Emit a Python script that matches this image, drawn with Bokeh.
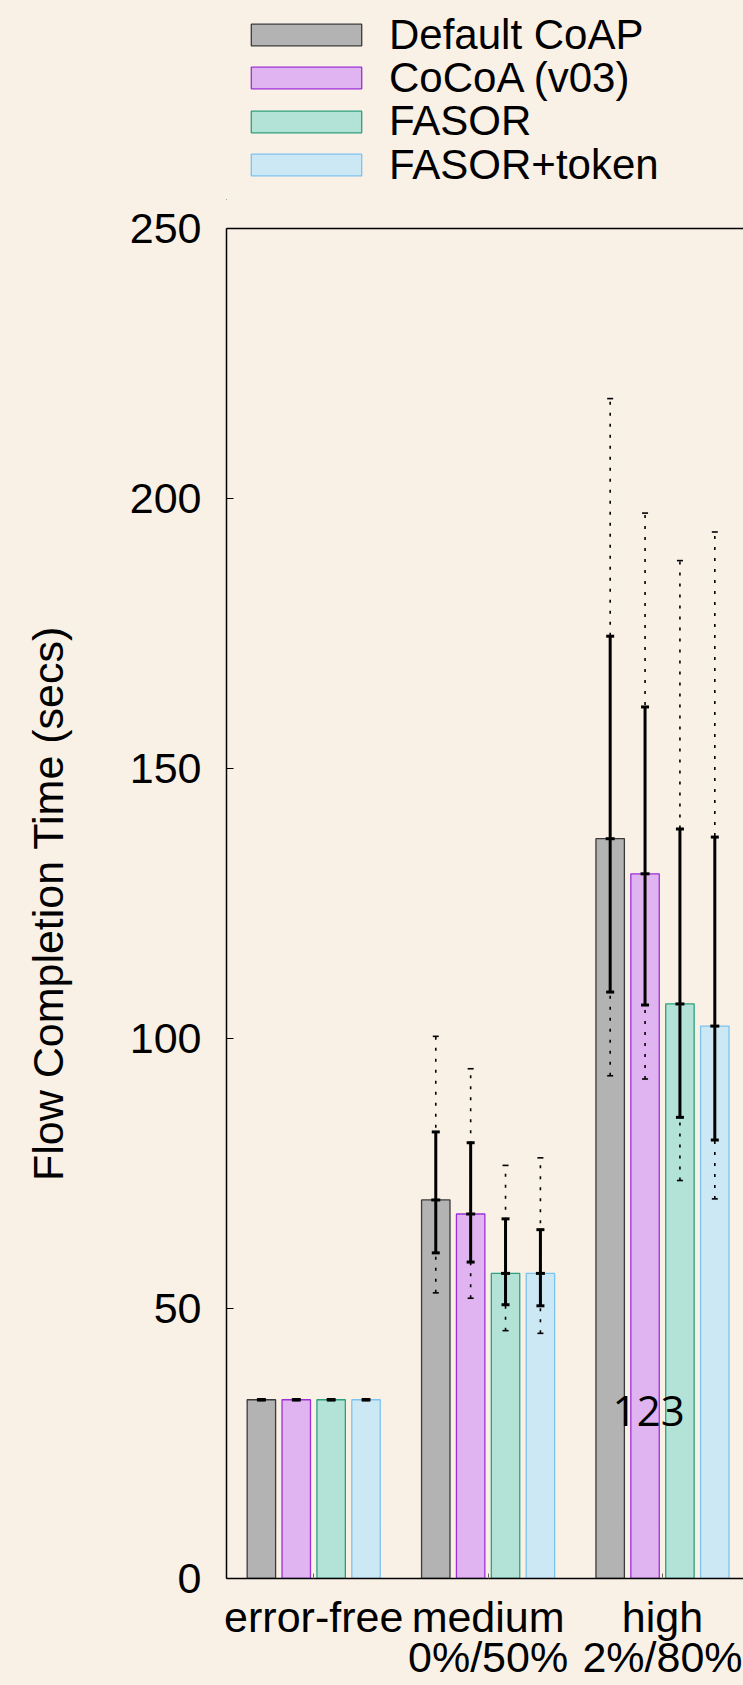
from bokeh.plotting import figure
from bokeh.layouts import column
from bokeh.models import (ColumnDataSource, Whisker, TeeHead, Legend, LegendItem,
                          FixedTicker, LinearAxis, Range1d, Label)
from bokeh.transform import dodge
from bokeh.embed import file_html
from bokeh.resources import INLINE

# ---------------- data ----------------
groups = ["error-free", "medium\n0%/50%", "high\n2%/80%"]
series = ["Default CoAP", "CoCoA (v03)", "FASOR", "FASOR+token"]

mean_default = [33.1, 70.1, 137.0]
mean_cocoa = [33.1, 67.5, 130.5]
mean_fasor = [33.1, 56.5, 106.4]
mean_token = [33.1, 56.5, 102.3]

lo_default = [33.1, 60.3, 108.6]
hi_default = [33.1, 82.7, 174.5]
lo_cocoa = [33.1, 58.6, 106.2]
hi_cocoa = [33.1, 80.7, 161.4]
lo_fasor = [33.1, 50.7, 85.4]
hi_fasor = [33.1, 66.6, 138.8]
lo_token = [33.1, 50.5, 81.2]
hi_token = [33.1, 64.6, 137.3]

min_default = [33.1, 52.9, 93.1]
max_default = [33.1, 100.4, 218.5]
min_cocoa = [33.1, 51.9, 92.5]
max_cocoa = [33.1, 94.4, 197.3]
min_fasor = [33.1, 45.9, 73.7]
max_fasor = [33.1, 76.5, 188.5]
min_token = [33.1, 45.4, 70.3]
max_token = [33.1, 77.9, 193.8]

y_ticks = [0, 50, 100, 150, 200, 250]

# ---------------- styling ----------------
FONT = "Liberation Sans"
BG = "#f9f0e6"
fills = ["#b3b3b3", "#e0b4f0", "#b3e2d6", "#cce8f5"]
lines = ["#3a3a3a", "#9e2fd8", "#2ca07f", "#7cc4ef"]
offsets = [-0.3, -0.1, 0.1, 0.3]
bar_w = 0.163

gx = list(range(len(groups)))

means = [mean_default, mean_cocoa, mean_fasor, mean_token]
los = [lo_default, lo_cocoa, lo_fasor, lo_token]
his = [hi_default, hi_cocoa, hi_fasor, hi_token]
mins = [min_default, min_cocoa, min_fasor, min_token]
maxs = [max_default, max_cocoa, max_fasor, max_token]

sources = [ColumnDataSource(dict(x=gx, mean=means[k], lo=los[k], hi=his[k], mn=mins[k], mx=maxs[k]))
           for k in range(4)]

LEG_H = 200
TOTAL_H = 1685

# ---------------- legend strip (frame aligned with the chart's frame) ----------------
# its ranges lie far away from the bars, so only the legend entries are visible
lf = figure(width=743, height=LEG_H, x_range=Range1d(10, 11), y_range=Range1d(1000, 1001),
            output_backend="svg", toolbar_location=None,
            min_border_left=0, min_border_right=0, min_border_top=0, min_border_bottom=0,
            background_fill_color=BG, border_fill_color=BG, outline_line_color=None)
lf.axis.visible = False
lf.xgrid.visible = False
lf.ygrid.visible = False
for k in range(4):
    r = lf.vbar(x=dodge("x", offsets[k], range=lf.x_range), top="mean", bottom=0, width=bar_w,
                source=sources[k], fill_color=fills[k], line_color=lines[k], line_width=1.3)
    row_center = 34.5 + 43.4 * k
    lg = Legend(items=[LegendItem(label=series[k], renderers=[r])],
                location=(11, LEG_H - (row_center + 30)),
                glyph_width=138, glyph_height=27, label_height=60, label_standoff=14,
                spacing=0, padding=0, margin=0, border_line_color=None, background_fill_alpha=0,
                label_text_font=FONT, label_text_font_size="42px", label_text_color="black")
    lf.add_layout(lg)

# ---------------- main chart ----------------
p = figure(width=743, height=TOTAL_H - LEG_H, x_range=Range1d(-0.5, 2.4645), y_range=Range1d(0, 250),
           output_backend="svg", toolbar_location=None,
           min_border_left=226, min_border_right=0, min_border_top=28, min_border_bottom=107,
           background_fill_color=BG, border_fill_color=BG, outline_line_color=None)
p.xgrid.visible = False
p.ygrid.visible = False

ya = p.yaxis[0]
ya.ticker = FixedTicker(ticks=y_ticks)
ya.major_tick_in = 7
ya.major_tick_out = 0
ya.minor_tick_line_color = None
ya.axis_line_width = 1.5
ya.major_tick_line_width = 1
ya.major_label_text_font = FONT
ya.major_label_text_font_size = "43px"
ya.major_label_text_color = "black"
ya.major_label_standoff = 25
ya.axis_label = "Flow Completion Time (secs)"
ya.axis_label_text_font = FONT
ya.axis_label_text_font_size = "43px"
ya.axis_label_text_font_style = "normal"
ya.axis_label_text_color = "black"
ya.axis_label_standoff = 55

xa = p.xaxis[0]
xa.ticker = FixedTicker(ticks=gx)
xa.major_label_overrides = {i: g for i, g in zip(gx, groups)}
xa.major_tick_in = 5
xa.major_tick_out = 0
xa.major_tick_line_color = "#666666"
xa.minor_tick_line_color = None
xa.axis_line_width = 1.5
xa.major_label_text_font = FONT
xa.major_label_text_font_size = "43px"
xa.major_label_text_line_height = 0.85
xa.major_label_text_color = "black"
xa.major_label_standoff = 14

top = LinearAxis(ticker=FixedTicker(ticks=[]), axis_line_width=1.5,
                 major_label_text_font_size="0px", major_tick_line_color=None,
                 major_tick_out=0, major_label_standoff=0,
                 minor_tick_line_color=None)
p.add_layout(top, "above")

for k in range(4):
    p.vbar(x=dodge("x", offsets[k], range=p.x_range), top="mean", bottom=0, width=bar_w,
           source=sources[k], fill_color=fills[k], line_color=lines[k], line_width=1.3)

for k in range(4):
    src = sources[k]
    base = dodge("x", offsets[k], range=p.x_range)
    w1 = Whisker(source=src, base=base, upper="mx", lower="mn", dimension="height",
                 line_color="black", line_width=1.6, line_dash="3 8", level="annotation",
                 upper_head=TeeHead(size=6, line_width=1.6, line_color="black"),
                 lower_head=TeeHead(size=6, line_width=1.6, line_color="black"))
    p.add_layout(w1)
    w2 = Whisker(source=src, base=base, upper="hi", lower="lo", dimension="height",
                 line_color="black", line_width=3, level="annotation",
                 upper_head=TeeHead(size=8, line_width=3, line_color="black"),
                 lower_head=TeeHead(size=8, line_width=3, line_color="black"))
    p.add_layout(w2)
    p.scatter(x=base, y="mean", source=src, marker="dash", size=9, line_width=3,
              line_color="black", level="overlay")

p.add_layout(Label(x=1.714, y=28.3, text="123", text_font="Open Sans",
                   text_font_size="42px", text_color="black"))

layout = column(lf, p, spacing=0)
html = file_html(layout, INLINE)
html = html.replace("<head>", "<head><style>html, body { background: #f9f0e6; }</style>", 1)
open("out.html", "w").write(html)
